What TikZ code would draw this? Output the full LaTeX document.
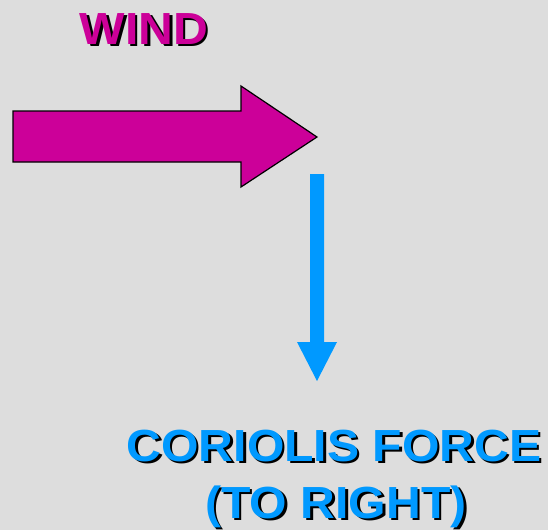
\documentclass[tikz,border=0pt]{standalone}
\usepackage{fontspec}
\setmainfont{Liberation Sans}
\newfontfamily\lblfont[FakeStretch=1.07]{Liberation Sans}
\definecolor{bg}{HTML}{DDDDDD}
\definecolor{windc}{HTML}{CC0099}
\definecolor{forcec}{HTML}{0099FF}
\begin{document}
\begin{tikzpicture}[x=1pt,y=-1pt,
  lbl/.style={font=\lblfont\fontsize{45}{50}\selectfont\bfseries, align=center, inner sep=0pt, anchor=base},
  shadowtxt/.style={lbl, text=black}]
\fill[bg] (0,0) rectangle (548,530);
\useasboundingbox (0,0) rectangle (548,530);
% wind arrow
\draw[fill=windc, draw=black, line width=1.2pt, line join=miter]
  (13,111) -- (241,111) -- (241,86) -- (317,137) -- (241,187) -- (241,162) -- (13,162) -- cycle;
% coriolis arrow
\fill[forcec] (310,174) -- (324,174) -- (324,342) -- (337,342) -- (317,381) -- (297,342) -- (310,342) -- cycle;
% texts
\node[shadowtxt] (windsh) at (146.5,46.5) {WIND};
\node[lbl, text=windc] (wind) at (144,44) {WIND};
\node[shadowtxt] (f1sh) at (336.5,463.5) {CORIOLIS FORCE};
\node[lbl, text=forcec] (f1) at (334,461) {CORIOLIS FORCE};
\node[shadowtxt] (f2sh) at (338.5,520.5) {(TO RIGHT)};
\node[lbl, text=forcec] (f2) at (336,518) {(TO RIGHT)};
\end{tikzpicture}
\end{document}
